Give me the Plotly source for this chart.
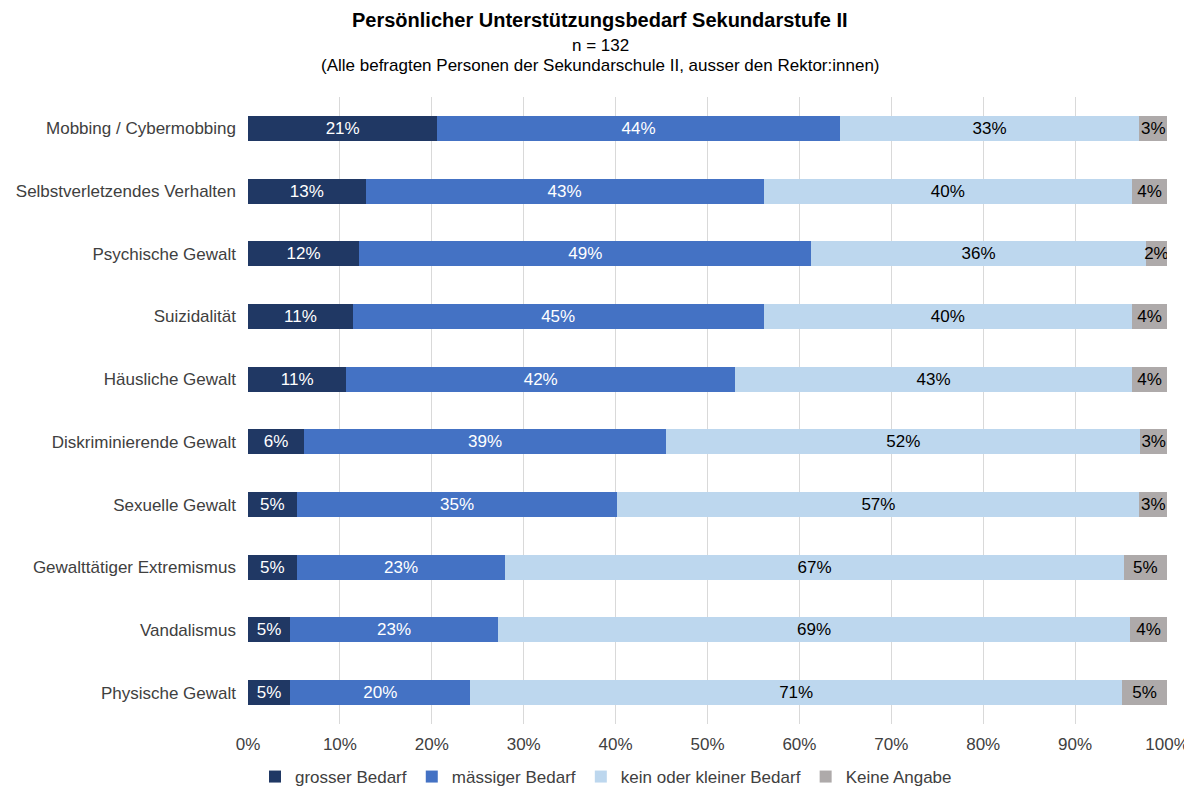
import plotly.graph_objects as go

# Kategorien (von oben nach unten)
themen = [
    "Mobbing / Cybermobbing",
    "Selbstverletzendes Verhalten",
    "Psychische Gewalt",
    "Suizidalität",
    "Häusliche Gewalt",
    "Diskriminierende Gewalt",
    "Sexuelle Gewalt",
    "Gewalttätiger Extremismus",
    "Vandalismus",
    "Physische Gewalt",
]

# Anteile in %
grosser_bedarf = [20.6, 12.8, 12.1, 11.4, 10.7, 6.1, 5.3, 5.3, 4.6, 4.6]
maessiger_bedarf = [43.8, 43.3, 49.2, 44.7, 42.3, 39.4, 34.9, 22.7, 22.6, 19.6]
kein_bedarf = [32.6, 40.1, 36.4, 40.1, 43.2, 51.6, 56.8, 67.3, 68.8, 70.9]
keine_angabe = [3.0, 3.8, 2.3, 3.8, 3.8, 2.9, 3.0, 4.7, 4.0, 4.9]

x_ticks = [0, 10, 20, 30, 40, 50, 60, 70, 80, 90, 100]

FONT = "Liberation Sans, Arial, sans-serif"
FS = 17

serien = [
    ("grosser Bedarf", grosser_bedarf, "#203864", "white"),
    ("mässiger Bedarf", maessiger_bedarf, "#4472C4", "white"),
    ("kein oder kleiner Bedarf", kein_bedarf, "#BDD7EE", "black"),
    ("Keine Angabe", keine_angabe, "#AEAAAA", "black"),
]

fig = go.Figure()
for name, werte, farbe, textfarbe in serien:
    fig.add_trace(
        go.Bar(
            y=themen,
            x=werte,
            orientation="h",
            name=name,
            marker=dict(color=farbe, line=dict(width=0)),
            texttemplate="%{x:.0f}%",
            textposition="inside",
            insidetextanchor="middle",
            textangle=0,
            constraintext="none",
            textfont=dict(family=FONT, size=FS, color=textfarbe),
        )
    )

# Seite hat 8px Rand -> Figur entsprechend kleiner
W, H = 1184, 779
fig.update_layout(
    barmode="stack",
    bargap=0.6,
    width=W,
    height=H,
    margin=dict(l=240, r=25, t=89, b=H - 716, autoexpand=False),
    plot_bgcolor="white",
    paper_bgcolor="white",
    font=dict(family=FONT, size=FS, color="#404040"),
    uniformtext=dict(minsize=8, mode="show"),
    legend=dict(
        orientation="h",
        xref="container",
        yref="container",
        x=598 / W,
        xanchor="center",
        y=1 - 769 / H,
        yanchor="middle",
        font=dict(family=FONT, size=FS, color="#404040"),
        traceorder="normal",
        itemwidth=30,
    ),
    showlegend=True,
)

fig.update_xaxes(
    range=[0, 100],
    tickvals=x_ticks,
    ticktext=[f"{t}%" for t in x_ticks],
    showgrid=True,
    gridcolor="#D9D9D9",
    gridwidth=1,
    zeroline=False,
    showline=False,
    ticks="",
    ticklabelstandoff=8,
    automargin=False,
    tickfont=dict(family=FONT, size=FS, color="#404040"),
    fixedrange=True,
)
fig.update_yaxes(
    autorange="reversed",
    showgrid=False,
    ticks="",
    ticklabelstandoff=11,
    automargin=False,
    tickfont=dict(family=FONT, size=FS, color="#404040"),
)

# Titel und Untertitel (Positionen in Pixel der Figur)
plot_h = 716 - 89
titel_x = (592 - 240) / (W - 240 - 25)
for text, y_px, size in [
    ("<b>Persönlicher Unterstützungsbedarf Sekundarstufe II</b>", 12, 20),
    ("n = 132", 37, FS),
    ("(Alle befragten Personen der Sekundarschule II, ausser den Rektor:innen)", 57, FS),
]:
    fig.add_annotation(
        text=text,
        xref="paper", yref="paper", x=titel_x, y=1 + (89 - y_px) / plot_h,
        xanchor="center", yanchor="middle", showarrow=False,
        font=dict(family=FONT, size=size, color="black"),
    )

fig.write_html("out.html")
